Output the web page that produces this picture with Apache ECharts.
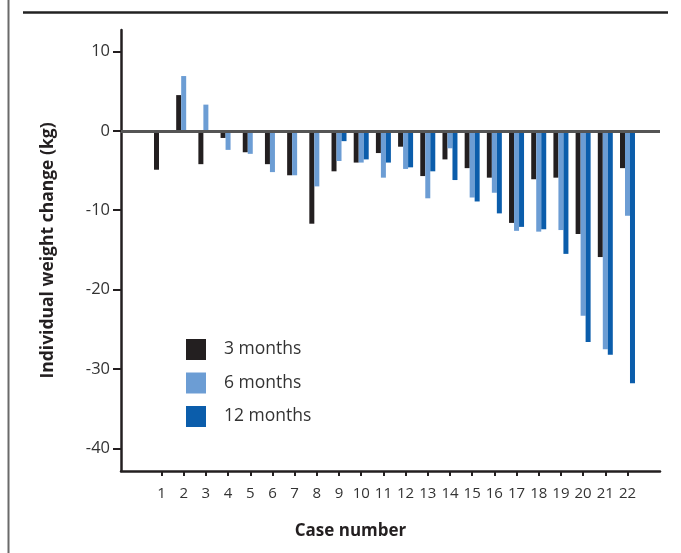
<!DOCTYPE html>
<html>
<head>
<meta charset="utf-8">
<script src="https://cdn.jsdelivr.net/npm/echarts@6/dist/echarts.min.js"></script>
<style>
html,body{margin:0;padding:0;background:#fff;}
#chart{width:681px;height:553px;}
</style>
</head>
<body>
<div id="chart"></div>
<script>
const cases = [1,2,3,4,5,6,7,8,9,10,11,12,13,14,15,16,17,18,19,20,21,22];
const months3 = [-4.9, 4.5, -4.2, -0.9, -2.7, -4.2, -5.6, -11.7, -5.1, -4.0, -2.8, -2.0, -5.7, -3.6, -4.7, -5.9, -11.6, -6.1, -5.9, -13.0, -15.9, -4.7];
const months6 = [null, 6.9, 3.3, -2.4, -2.9, -5.2, -5.6, -7.0, -3.8, -4.0, -5.9, -4.8, -8.5, -2.2, -8.4, -7.8, -12.6, -12.7, -12.5, -23.3, -27.5, -10.7];
const months12 = [null, null, null, null, null, null, null, null, -1.3, -3.6, -4.0, -4.6, -5.1, -6.2, -8.9, -10.4, -12.1, -12.4, -15.5, -26.6, -28.2, -31.8];
const yTicks = [-40, -30, -20, -10, 0, 10];
const seriesNames = ['3 months', '6 months', '12 months'];
const colors = ['#231f20', '#6c9dd4', '#0b5dab'];

const pairs = arr => cases.map((c, i) => [c, arr[i]]).filter(p => p[1] !== null);
const font = 'Open Sans';
const axisColor = '#231f20';

const chart = echarts.init(document.getElementById('chart'));
chart.setOption({
  animation: false,
  backgroundColor: '#fff',
  textStyle: { fontFamily: font },
  graphic: [
    { type: 'line', shape: { x1: 8.5, y1: 0, x2: 8.5, y2: 553 }, style: { stroke: '#6a6a6a', lineWidth: 2 } },
    { type: 'line', shape: { x1: 23, y1: 12.5, x2: 668, y2: 12.5 }, style: { stroke: '#222', lineWidth: 2.5 } }
  ],
  legend: {
    orient: 'vertical',
    left: 186,
    top: 339,
    padding: 0,
    itemWidth: 20,
    itemHeight: 21,
    itemGap: 12.5,
    icon: 'rect',
    textStyle: { fontFamily: font, fontSize: 17.5, color: '#333', padding: [0, 0, 0, 13] },
    data: seriesNames
  },
  grid: { left: 121, top: 30, width: 539, height: 441, containLabel: false, outerBoundsMode: 'none' },
  xAxis: {
    type: 'value',
    min: -0.825,
    max: 23.465,
    name: 'Case number',
    nameLocation: 'middle',
    nameGap: 52,
    nameTextStyle: { fontFamily: font, fontSize: 17, fontWeight: 'bold', color: '#231f20', padding: [0, 80, 0, 0] },
    splitLine: { show: false },
    axisLine: { onZero: false, lineStyle: { color: axisColor, width: 2.5 } },
    axisTick: { customValues: cases, length: 5, lineStyle: { color: axisColor, width: 2 } },
    axisLabel: { customValues: cases, margin: 15, fontSize: 15, color: '#333', fontFamily: font, formatter: v => String(v) }
  },
  yAxis: {
    type: 'value',
    min: -42.85,
    max: 12.7,
    name: 'Individual weight change (kg)',
    nameLocation: 'middle',
    nameGap: 64,
    nameRotate: 90,
    nameTextStyle: { fontFamily: font, fontSize: 17.5, fontWeight: 'bold', color: '#231f20' },
    splitLine: { show: false },
    axisLine: { onZero: false, lineStyle: { color: axisColor, width: 2.5 } },
    axisTick: { customValues: yTicks, length: 8, lineStyle: { color: axisColor, width: 2 } },
    axisLabel: { customValues: yTicks, margin: 11, fontSize: 16.5, color: '#333', fontFamily: font }
  },
  series: [
    {
      name: seriesNames[0], type: 'bar', barWidth: 5, barGap: '0%',
      itemStyle: { color: colors[0] }, data: pairs(months3),
      markLine: {
        silent: true, symbol: 'none', label: { show: false },
        lineStyle: { color: '#555', width: 3, type: 'solid' },
        data: [{ yAxis: 0 }], z: 10
      }
    },
    { name: seriesNames[1], type: 'bar', barWidth: 5, barGap: '0%', itemStyle: { color: colors[1] }, data: pairs(months6) },
    { name: seriesNames[2], type: 'bar', barWidth: 5, barGap: '0%', itemStyle: { color: colors[2] }, data: pairs(months12) }
  ]
});
</script>
</body>
</html>
